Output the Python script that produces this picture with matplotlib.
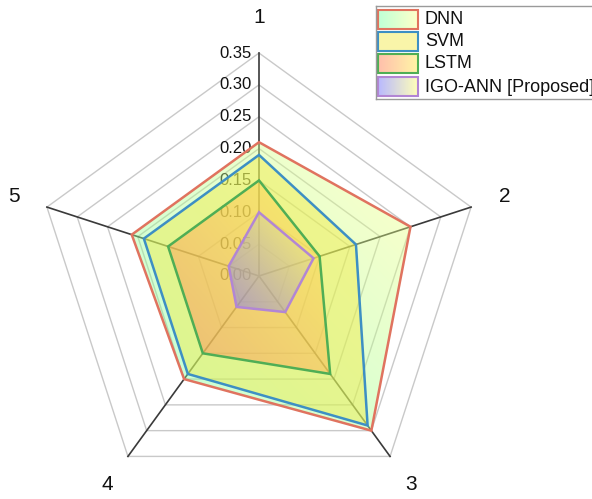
import numpy as np
import matplotlib
matplotlib.use("Agg")
import matplotlib.pyplot as plt
from matplotlib.patches import Polygon, Rectangle

plt.rcParams["font.family"] = ["Liberation Sans", "DejaVu Sans"]

# radar data, one value per axis 1..5
axes_labels = ["1", "2", "3", "4", "5"]
ticks = [0.00, 0.05, 0.10, 0.15, 0.20, 0.25, 0.30, 0.35]
models = ["DNN", "SVM", "LSTM", "IGO-ANN [Proposed]"]
dnn = [0.21, 0.25, 0.30, 0.20, 0.21]
svm = [0.19, 0.16, 0.29, 0.19, 0.19]
lstm = [0.15, 0.10, 0.19, 0.15, 0.15]
igo_ann = [0.10, 0.09, 0.07, 0.06, 0.05]
series = [dnn, svm, lstm, igo_ann]

# edge colour, gradient start / end colour (upper-left -> lower-right), alpha
styles = [
    ("#e0735f", (0.40, 1.00, 0.62), (1.00, 1.00, 0.50), 0.42),
    ("#3d8fc4", (0.95, 0.92, 0.25), (0.95, 0.92, 0.25), 0.45),
    ("#4fae55", (1.00, 0.50, 0.35), (1.00, 0.92, 0.30), 0.50),
    ("#b286d4", (0.45, 0.45, 1.00), (1.00, 1.00, 0.45), 0.50),
]

W, H = 592, 499
cx, cy = 259, 276
rmax = max(ticks)
scale = 223 / rmax  # pixels per unit

fig = plt.figure(figsize=(W / 100, H / 100), dpi=100)
ax = fig.add_axes([0, 0, 1, 1])
ax.set_xlim(-cx / scale, (W - cx) / scale)
ax.set_ylim(-(H - cy) / scale, cy / scale)
ax.set_aspect("equal")
ax.axis("off")

n = len(axes_labels)
theta = np.deg2rad(90 - 72 * np.arange(n))


def to_xy(vals):
    vals = np.asarray(vals)
    return np.column_stack([vals * np.cos(theta), vals * np.sin(theta)])


def gradient(c0, c1, alpha, nx=64, ny=64, horizontal=False):
    gx, gy = np.meshgrid(np.linspace(0, 1, nx), np.linspace(0, 1, ny))
    t = gx if horizontal else (gx + gy) / 2
    c0, c1 = np.array(c0), np.array(c1)
    img = np.empty((ny, nx, 4))
    img[..., :3] = c0 + (c1 - c0) * t[..., None]
    img[..., 3] = alpha
    return img


# grid rings
for r in ticks[1:]:
    ring = to_xy([r] * n)
    ax.add_patch(Polygon(ring, closed=True, fill=False, ec="#c9c9c9", lw=1.0, zorder=1))

# spokes
outer = to_xy([rmax] * n)
for x, y in outer:
    ax.plot([0, x], [0, y], color="#3a3a3a", lw=1.2, zorder=2)

# radial tick labels along the top spoke
for r in ticks:
    ax.text(-0.011, r, f"{r:.2f}", ha="right", va="center", fontsize=12,
            color="#111111", zorder=2)

# axis names
for lab, th in zip(axes_labels, theta):
    ax.text(0.405 * np.cos(th), 0.405 * np.sin(th), lab, ha="center", va="center",
            fontsize=15, color="#111111")

# filled polygons with gradient fill
for vals, (ec, c0, c1, a) in zip(series, styles):
    pts = to_xy(vals)
    x0, y0 = pts.min(axis=0)
    x1, y1 = pts.max(axis=0)
    poly = Polygon(pts, closed=True, fill=False, ec=ec, lw=1.8, zorder=5)
    im = ax.imshow(gradient(c0, c1, a), extent=(x0, x1, y1, y0), origin="upper",
                   interpolation="bilinear", zorder=4, aspect="auto")
    im.set_clip_path(Polygon(pts, closed=True, transform=ax.transData))
    ax.add_patch(poly)

ax.set_xlim(-cx / scale, (W - cx) / scale)
ax.set_ylim(-(H - cy) / scale, cy / scale)

# legend box, in pixel units
lg = fig.add_axes([376 / W, 1 - 99 / H, 240 / W, 93 / H])
lg.set_xlim(0, 240)
lg.set_ylim(93, 0)
lg.set_xticks([])
lg.set_yticks([])
for sp in lg.spines.values():
    sp.set_color("#9a9a9a")
    sp.set_linewidth(1.0)
rows = [4, 26, 48, 71]
for name, top, (ec, c0, c1, a) in zip(models, rows, styles):
    lg.imshow(gradient(c0, c1, a, horizontal=True), extent=(2, 42, top + 19, top),
              interpolation="bilinear", aspect="auto", zorder=1)
    lg.add_patch(Rectangle((2, top), 40, 19, fill=False, ec=ec, lw=1.5, zorder=2))
    lg.text(49, top + 10, name, ha="left", va="center", fontsize=13, color="#111111")
lg.set_xlim(0, 240)
lg.set_ylim(93, 0)

fig.savefig("out.png", dpi=100)
